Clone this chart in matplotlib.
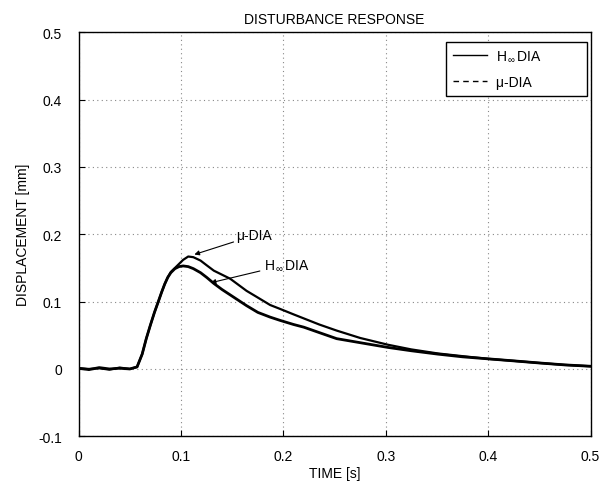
import matplotlib
matplotlib.use('Agg')
import matplotlib.pyplot as plt
from matplotlib.lines import Line2D

plt.rcParams['font.family'] = ['Liberation Sans', 'DejaVu Sans']
plt.rcParams['mathtext.fontset'] = 'custom'
plt.rcParams['mathtext.rm'] = 'Liberation Sans'
plt.rcParams['mathtext.it'] = 'Liberation Sans'

# values
time = [0, 0.01, 0.02, 0.03, 0.04, 0.05,
        0.057, 0.062, 0.066, 0.070, 0.074, 0.078,
        0.081, 0.084, 0.087, 0.090, 0.094, 0.098,
        0.102, 0.107, 0.112, 0.119, 0.125, 0.132,
        0.140, 0.148, 0.156, 0.164, 0.175, 0.187,
        0.197, 0.210, 0.220, 0.235, 0.252, 0.275,
        0.302, 0.325, 0.351, 0.375, 0.400, 0.425,
        0.449, 0.475, 0.500]

h_inf = [0.001, -0.001, 0.002, 0.000, 0.001, 0.000,
         0.003, 0.022, 0.045, 0.065, 0.084, 0.101,
         0.114, 0.126, 0.136, 0.143, 0.149, 0.152,
         0.153, 0.152, 0.149, 0.143, 0.136, 0.127,
         0.118, 0.110, 0.102, 0.094, 0.084, 0.077,
         0.072, 0.066, 0.062, 0.054, 0.045, 0.039,
         0.032, 0.027, 0.022, 0.018, 0.015, 0.012,
         0.009, 0.006, 0.004]

mu = [0.001, 0.000, 0.001, -0.001, 0.002, 0.000,
      0.003, 0.022, 0.045, 0.065, 0.084, 0.101,
      0.114, 0.126, 0.136, 0.144, 0.150, 0.156,
      0.162, 0.167, 0.166, 0.161, 0.154, 0.146,
      0.140, 0.134, 0.125, 0.116, 0.106, 0.095,
      0.089, 0.081, 0.075, 0.066, 0.057, 0.046,
      0.036, 0.029, 0.023, 0.019, 0.015, 0.012,
      0.009, 0.006, 0.004]

h_label = r'H$_{\,\infty\,}$DIA'
mu_label = '\u03bc-DIA'

fig = plt.figure(figsize=(6.13, 4.85), dpi=100)
ax = fig.add_axes([0.1284, 0.0984, 0.8349, 0.8329])

ax.plot(time, h_inf, color='black', lw=2.0)
ax.plot(time, mu, color='black', lw=1.6)

ax.set_xlim(0, 0.5)
ax.set_ylim(-0.1, 0.5)
ax.set_xticks([0, 0.1, 0.2, 0.3, 0.4, 0.5])
ax.set_xticklabels(['0', '0.1', '0.2', '0.3', '0.4', '0.5'])
ax.set_yticks([-0.1, 0, 0.1, 0.2, 0.3, 0.4, 0.5])
ax.set_yticklabels(['-0.1', '0', '0.1', '0.2', '0.3', '0.4', '0.5'])
ax.tick_params(direction='in', length=4, labelsize=10)
ax.tick_params(axis='x', pad=9)
ax.tick_params(axis='y', pad=12)
ax.grid(True, color='#888888', linestyle=(0, (1, 3)), linewidth=0.8)
for s in ax.spines.values():
    s.set_linewidth(1.0)

ax.set_title('DISTURBANCE RESPONSE', fontsize=10, pad=7)
ax.set_xlabel('TIME [s]', fontsize=10, labelpad=2)
ax.set_ylabel('DISPLACEMENT [mm]', fontsize=10, labelpad=6)

ax.annotate(mu_label, xy=(0.113, 0.170), xytext=(0.154, 0.188),
            fontsize=10, va='bottom', ha='left',
            arrowprops=dict(arrowstyle='-|>', color='black', lw=0.8,
                            mutation_scale=7, shrinkA=0, shrinkB=0))
ax.annotate(h_label, xy=(0.129, 0.128), xytext=(0.181, 0.155),
            fontsize=10, va='center', ha='left',
            arrowprops=dict(arrowstyle='-|>', color='black', lw=0.8,
                            mutation_scale=7, shrinkA=1, shrinkB=0))

handles = [Line2D([], [], color='black', lw=1.0),
           Line2D([], [], color='black', lw=1.0, linestyle=(0, (4, 3)))]
pad = ' ' * 11
leg = ax.legend(handles, [h_label + pad, mu_label + pad],
                loc='upper right', bbox_to_anchor=(1.0, 0.985),
                fontsize=10, fancybox=False,
                edgecolor='black', framealpha=1, handlelength=2.4,
                handletextpad=0.7, borderpad=0.5, borderaxespad=0.25,
                labelspacing=0.85)
leg.get_frame().set_linewidth(1.0)

fig.savefig('out.png', dpi=100)
